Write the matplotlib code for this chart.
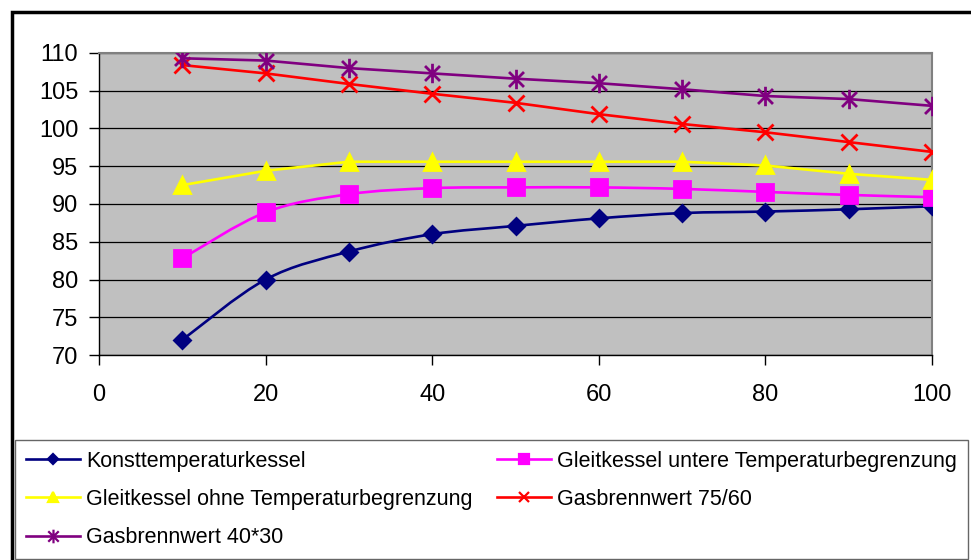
import numpy as np
import matplotlib
matplotlib.use("Agg")
import matplotlib.pyplot as plt
from matplotlib.path import Path
from matplotlib.patches import PathPatch, Rectangle
from matplotlib.lines import Line2D

plt.rcParams['font.family'] = ['Liberation Sans', 'DejaVu Sans']

# load (%) on the x axis
load = [10, 20, 30, 40, 50, 60, 70, 80, 90, 100]

# efficiency values
konst = [72.0, 80.0, 83.7, 86.0, 87.1, 88.1, 88.8, 89.0, 89.3, 89.7]
gleit_untere = [82.8, 88.9, 91.3, 92.1, 92.2, 92.2, 92.0, 91.6, 91.2, 90.9]
gleit_ohne = [92.5, 94.4, 95.6, 95.6, 95.6, 95.6, 95.6, 95.1, 94.0, 93.2]
gas_7560 = [108.4, 107.3, 105.9, 104.6, 103.4, 101.9, 100.6, 99.5, 98.2, 96.9]
gas_4030 = [109.3, 109.0, 108.0, 107.3, 106.6, 106.0, 105.2, 104.3, 103.9, 103.0]

labels = ["Konsttemperaturkessel",
          "Gleitkessel untere Temperaturbegrenzung",
          "Gleitkessel ohne Temperaturbegrenzung",
          "Gasbrennwert 75/60",
          "Gasbrennwert 40*30"]

xticks = [0, 20, 40, 60, 80, 100]
yticks = [70, 75, 80, 85, 90, 95, 100, 105, 110]

# excel style star marker: x plus vertical bar
star = Path([(-1, -1), (1, 1), (-1, 1), (1, -1), (0, -1.3), (0, 1.3)],
            [Path.MOVETO, Path.LINETO, Path.MOVETO, Path.LINETO, Path.MOVETO, Path.LINETO])


def smooth_path(x, y):
    # catmull-rom through the points, like excel's smoothed line
    pts = np.column_stack([x, y]).astype(float)
    verts = [pts[0]]
    codes = [Path.MOVETO]
    n = len(pts)
    for i in range(n - 1):
        p0 = pts[max(i - 1, 0)]
        p1 = pts[i]
        p2 = pts[i + 1]
        p3 = pts[min(i + 2, n - 1)]
        verts += [p1 + (p2 - p0) / 6, p2 - (p3 - p1) / 6, p2]
        codes += [Path.CURVE4] * 3
    return Path(verts, codes)


fig = plt.figure(figsize=(9.71, 5.6), dpi=100)
ax = fig.add_axes([99 / 971, 1 - 355 / 560, (932 - 99) / 971, (355 - 53) / 560])
ax.set_facecolor("#c0c0c0")

series = [
    (konst, "#000080", "D", 8, True),
    (gleit_untere, "#ff00ff", "s", 11, True),
    (gleit_ohne, "#ffff00", "^", 11, False),
    (gas_7560, "#ff0000", "x", 11, False),
    (gas_4030, "#800080", star, 14, False),
]

handles = []
for (vals, col, mk, ms, smooth), lab in zip(series, labels):
    if smooth:
        ax.add_patch(PathPatch(smooth_path(load, vals), fill=False, ec=col, lw=1.9, zorder=3))
        ax.plot(load, vals, ls="none", marker=mk, ms=ms, color=col, mec=col, mew=2, zorder=4)
    else:
        ax.plot(load, vals, color=col, lw=1.9, marker=mk, ms=ms, mec=col, mew=2, zorder=4)
    handles.append(Line2D([], [], color=col, lw=1.9, marker=mk, ms=ms * 0.7, mec=col, mew=1.6))

ax.set_xlim(0, 100)
ax.set_ylim(70, 110)
ax.set_xticks(xticks)
ax.set_yticks(yticks)
ax.grid(axis="y", color="black", lw=0.9)
ax.set_axisbelow(True)
ax.tick_params(axis="both", labelsize=17, length=7, width=1, direction="out")
ax.tick_params(axis="x", pad=14)
ax.tick_params(axis="y", pad=8)
for s in ["top", "right"]:
    ax.spines[s].set_color("#808080")
    ax.spines[s].set_linewidth(1.5)
for s in ["left", "bottom"]:
    ax.spines[s].set_color("black")
    ax.spines[s].set_linewidth(1)

# outer chart border
fig.add_artist(Rectangle((12 / 971, -0.05), 1.1, 1.05 - 12 / 560, transform=fig.transFigure,
                         fill=False, ec="black", lw=2.5))

order = [0, 2, 4, 1, 3]
leg = fig.legend([handles[i] for i in order], [labels[i] for i in order],
                 loc="upper left", bbox_to_anchor=(15 / 971, 1 - 559 / 560, 953 / 971, 119 / 560),
                 mode="expand", ncol=2, fontsize=15.5, frameon=True, fancybox=False,
                 handlelength=2.5, handletextpad=0.3, borderpad=0.5, labelspacing=0.8,
                 borderaxespad=0, numpoints=1)
leg.get_frame().set_edgecolor("#404040")
leg.get_frame().set_linewidth(1)

fig.savefig("out.png", dpi=100)
